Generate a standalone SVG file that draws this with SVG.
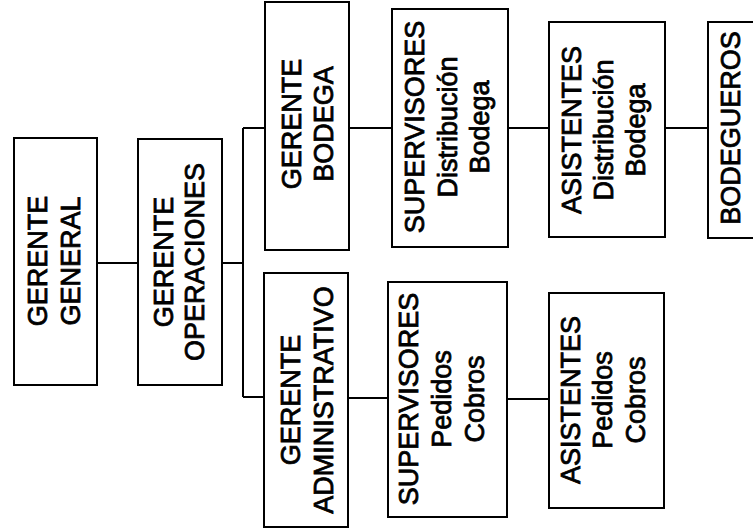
<svg xmlns="http://www.w3.org/2000/svg" width="753" height="529" viewBox="0 0 753 529">
<style>
rect.box{fill:#fff;stroke:#000;stroke-width:2}
.lbl{font-family:"Liberation Sans",Arial,sans-serif;font-size:27px;fill:#000;stroke:#000;stroke-width:0.8;text-anchor:middle}
.conn path{fill:none;stroke:#000;stroke-width:2}
</style>
<rect width="753" height="529" fill="#fff"/>
<g class="conn" id="connectors">
<path d="M97 263H138"/>
<path d="M222 263H243"/>
<path d="M243 128V397"/>
<path d="M243 128H265"/>
<path d="M243 397H264"/>
<path d="M349 128H392"/>
<path d="M508 128H549"/>
<path d="M665 128H708"/>
<path d="M348 398H388"/>
<path d="M507 399H549"/>
</g>
<g id="gerente-general">
<rect class="box" x="14" y="138" width="83" height="247"/>
<text class="lbl" transform="translate(0,261) rotate(-90)"><tspan x="0" y="47">GERENTE</tspan><tspan x="0" y="80">GENERAL</tspan></text>
</g>
<g id="gerente-operaciones">
<rect class="box" x="138" y="139" width="84" height="246"/>
<text class="lbl" transform="translate(0,262) rotate(-90)"><tspan x="0" y="173">GERENTE</tspan><tspan x="0" y="204">OPERACIONES</tspan></text>
</g>
<g id="gerente-bodega">
<rect class="box" x="265" y="2" width="84" height="248"/>
<text class="lbl" transform="translate(0,124) rotate(-90)"><tspan x="0" y="301">GERENTE</tspan><tspan x="0" y="333">BODEGA</tspan></text>
</g>
<g id="supervisores-distribucion">
<rect class="box" x="392" y="9" width="116" height="238"/>
<text class="lbl" transform="translate(0,127) rotate(-90)"><tspan x="0" y="424">SUPERVISORES</tspan><tspan x="0" y="457">Distribución</tspan><tspan x="0" y="489">Bodega</tspan></text>
</g>
<g id="asistentes-distribucion">
<rect class="box" x="549" y="22" width="116" height="215"/>
<text class="lbl" transform="translate(0,130) rotate(-90)"><tspan x="0" y="581">ASISTENTES</tspan><tspan x="0" y="613">Distribución</tspan><tspan x="0" y="645">Bodega</tspan></text>
</g>
<g id="bodegueros">
<rect class="box" x="708" y="22" width="70" height="216"/>
<text class="lbl" transform="translate(0,128) rotate(-90)"><tspan x="0" y="740">BODEGUEROS</tspan></text>
</g>
<g id="gerente-administrativo">
<rect class="box" x="264" y="273" width="84" height="254"/>
<text class="lbl" transform="translate(0,400) rotate(-90)"><tspan x="0" y="300">GERENTE</tspan><tspan x="0" y="333">ADMINISTRATIVO</tspan></text>
</g>
<g id="supervisores-pedidos">
<rect class="box" x="388" y="282" width="119" height="235"/>
<text class="lbl" transform="translate(0,399) rotate(-90)"><tspan x="0" y="418">SUPERVISORES</tspan><tspan x="0" y="451">Pedidos</tspan><tspan x="0" y="484">Cobros</tspan></text>
</g>
<g id="asistentes-pedidos">
<rect class="box" x="549" y="293" width="115" height="215"/>
<text class="lbl" transform="translate(0,400) rotate(-90)"><tspan x="0" y="580">ASISTENTES</tspan><tspan x="0" y="612">Pedidos</tspan><tspan x="0" y="645">Cobros</tspan></text>
</g>
</svg>
